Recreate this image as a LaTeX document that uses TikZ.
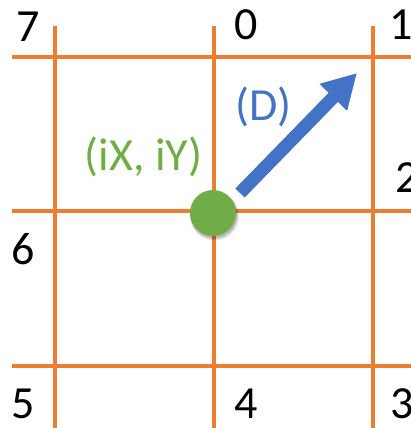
\documentclass[tikz,border=0pt]{standalone}
\usepackage{fontspec}
\setmainfont{Carlito}
\usetikzlibrary{arrows.meta}
\definecolor{gridorange}{HTML}{ED7D31}
\definecolor{dotgreen}{HTML}{70AD47}
\definecolor{arrowblue}{HTML}{4472C4}
\tikzset{
  gridline/.style={draw=gridorange, line width=4pt},
  numlabel/.style={inner sep=0pt, font=\fontsize{46}{46}\selectfont, text=black},
  coordlabel/.style={inner sep=0pt, font=\fontsize{46}{46}\selectfont, text=dotgreen},
  dirlabel/.style={inner sep=0pt, font=\fontsize{46}{46}\selectfont, text=arrowblue},
  dirarrow/.style={draw=arrowblue, line width=13pt, -{Triangle[width=36pt,length=34pt]}},
}
\begin{document}
\begin{tikzpicture}[x=1pt,y=-1pt]
\useasboundingbox (0,0) rectangle (411,428);
% grid
\coordinate (v1t) at (55,26);  \coordinate (v1b) at (55,430);
\coordinate (v2t) at (214,26); \coordinate (v2b) at (214,430);
\coordinate (v3t) at (373,26); \coordinate (v3b) at (373,430);
\coordinate (h1l) at (12,57);  \coordinate (h1r) at (413,57);
\coordinate (h2l) at (12,211); \coordinate (h2r) at (413,211);
\coordinate (h3l) at (12,366); \coordinate (h3r) at (413,366);
\draw[gridline] (v1t) -- (v1b);
\draw[gridline] (v2t) -- (v2b);
\draw[gridline] (v3t) -- (v3b);
\draw[gridline] (h1l) -- (h1r);
\draw[gridline] (h2l) -- (h2r);
\draw[gridline] (h3l) -- (h3r);
% labels
\node[numlabel] (n7) at (28.5,27) {7};
\node[numlabel] (n0) at (246,25) {0};
\node[numlabel, anchor=west] (n1) at (389,25) {1};
\node[numlabel, anchor=west] (n2) at (395,178) {2};
\node[numlabel] (n6) at (23,249) {6};
\node[numlabel] (n5) at (23,404) {5};
\node[numlabel] (n4) at (246,404) {4};
\node[numlabel, anchor=west] (n3) at (390,404) {3};
% dot
\fill[black, opacity=0.12] (214.5,216) circle (24.5pt);
\fill[black, opacity=0.18] (214,215) circle (23.5pt);
\node[circle, fill=dotgreen, minimum size=46pt, inner sep=0pt] (dot) at (213,213) {};
\node[coordlabel] (ixy) at (143.5,156.5) {(iX, iY)};
% arrow
\coordinate (atail) at (240,193);
\coordinate (atip) at (357,73);
\draw[dirarrow] (atail) -- (atip);
\node[dirlabel] (dlab) at (263.5,106.5) {(D)};
\end{tikzpicture}
\end{document}
